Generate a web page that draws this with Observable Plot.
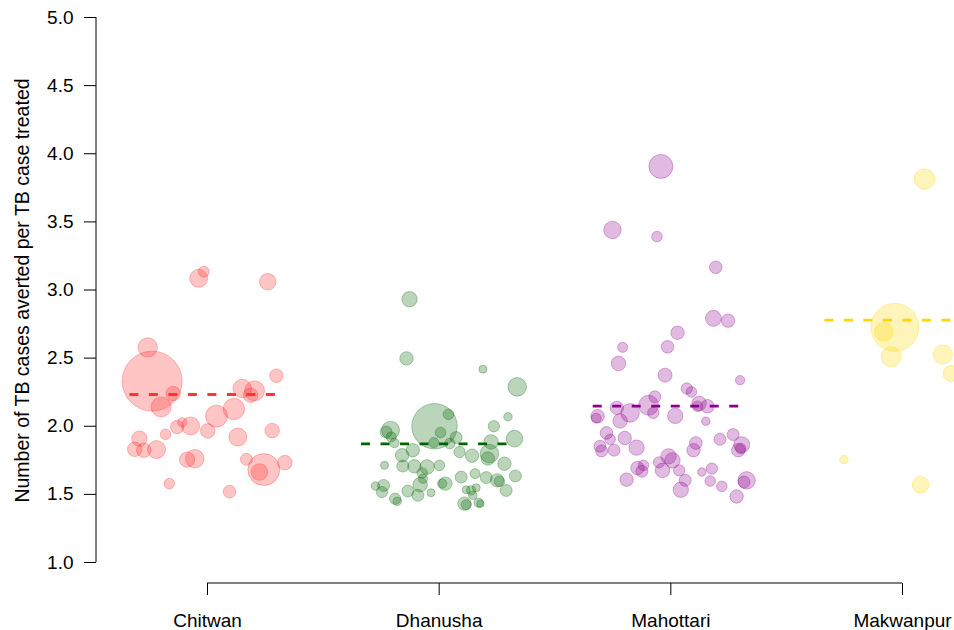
<!DOCTYPE html>
<html>
<head>
<meta charset="utf-8">
<script src="https://cdn.jsdelivr.net/npm/d3@7"></script>
<script src="https://cdn.jsdelivr.net/npm/@observablehq/plot@0.6"></script>
<style>
  html, body { margin: 0; padding: 0; background: #fff; }
</style>
</head>
<body>
<div id="chart"></div>
<script>
const districts = ["Chitwan", "Dhanusha", "Mahottari", "Makwanpur"];
const yTicks = [1.0, 1.5, 2.0, 2.5, 3.0, 3.5, 4.0, 4.5, 5.0];
const yTitle = "Number of TB cases averted per TB case treated";

// weighted mean per district (dashed lines)
const districtMeans = [2.233, 1.870, 2.147, 2.779];

// Chitwan: jittered category offset, value, weight
const chitwanJitter = [-0.038,-0.016,0.260,-0.258,-0.239,0.297,-0.148,-0.200,0.150,0.203,0.186,0.039,0.114,-0.109,-0.131,-0.073,-0.181,0.001,0.279,-0.294,0.131,-0.314,-0.275,-0.220,-0.088,-0.055,0.168,0.243,0.224,0.334,-0.165,0.095];
const chitwanValue = [3.086,3.134,3.061,2.579,2.331,2.370,2.240,2.142,2.277,2.260,2.228,2.074,2.127,2.029,1.995,2.002,1.941,1.966,1.968,1.909,1.921,1.831,1.824,1.829,1.755,1.762,1.757,1.682,1.664,1.733,1.579,1.520];
const chitwanN = [81,30,69,94,900,45,53,100,86,100,53,121,114,22,45,81,28,53,53,59,81,53,53,81,59,86,36,256,69,53,28,40];

// Dhanusha
const dhanushaJitter = [-0.128,-0.141,0.189,0.337,-0.020,0.040,0.006,0.297,0.236,-0.210,-0.229,-0.207,-0.193,0.325,0.224,0.073,0.046,-0.023,-0.114,0.088,-0.160,0.142,0.217,0.210,-0.236,-0.157,-0.107,-0.052,0.001,0.282,-0.073,-0.070,-0.082,0.095,0.155,0.203,0.250,0.260,0.329,-0.275,-0.240,-0.247,0.027,0.013,-0.135,-0.092,-0.035,0.289,0.117,0.138,0.160,0.145,-0.190,-0.181,0.109,0.117,0.170,0.178];
const dhanushaValue = [2.932,2.498,2.419,2.289,2.000,2.088,1.954,2.069,2.000,1.971,1.958,1.922,1.877,1.909,1.885,1.917,1.873,1.880,1.824,1.811,1.787,1.784,1.799,1.763,1.713,1.708,1.706,1.701,1.713,1.725,1.657,1.615,1.571,1.627,1.652,1.623,1.603,1.596,1.635,1.561,1.566,1.517,1.579,1.579,1.524,1.493,1.512,1.529,1.534,1.529,1.549,1.493,1.468,1.449,1.432,1.424,1.439,1.432];
const dhanushaN = [59,45,16,86,515,28,28,18,32,81,36,25,22,69,53,36,28,25,45,32,45,45,86,45,16,36,45,53,28,45,28,22,53,36,25,36,45,28,36,18,36,32,45,22,36,36,16,36,16,22,16,18,32,18,45,25,22,14];

// Mahottari
const mahottariJitter = [-0.043,-0.252,-0.060,0.194,0.184,0.247,0.029,-0.208,-0.014,-0.226,-0.025,0.299,0.069,0.089,-0.069,-0.096,0.122,0.158,0.115,-0.233,-0.176,-0.076,0.019,-0.316,-0.322,-0.219,0.151,-0.278,-0.199,-0.262,0.212,0.269,0.306,-0.306,-0.299,-0.245,-0.148,0.108,0.098,0.291,0.302,-0.010,0.007,-0.051,-0.118,-0.144,-0.125,-0.036,0.036,0.177,0.134,-0.191,0.062,0.170,0.327,0.316,0.220,0.043,0.284];
const mahottariValue = [3.907,3.441,3.392,3.167,2.792,2.775,2.686,2.579,2.583,2.461,2.375,2.338,2.277,2.252,2.216,2.154,2.167,2.147,2.147,2.135,2.098,2.098,2.076,2.074,2.059,2.039,2.037,1.951,1.914,1.904,1.904,1.939,1.865,1.853,1.819,1.824,1.843,1.877,1.824,1.824,1.836,1.779,1.750,1.735,1.713,1.693,1.669,1.676,1.676,1.689,1.664,1.608,1.603,1.598,1.603,1.590,1.559,1.534,1.485];
const mahottariN = [144,76,28,40,64,45,45,25,40,53,49,22,32,28,36,100,53,45,28,45,86,32,59,45,25,53,18,40,45,28,36,36,64,36,36,36,59,40,45,45,28,59,59,32,28,45,36,53,32,32,18,45,36,28,76,36,28,59,45];

// Makwanpur
const makwanpurJitter = [0.095,-0.033,-0.081,-0.049,0.174,0.210,-0.253,0.078,0.250];
const makwanpurValue = [3.814,2.726,2.693,2.510,2.527,2.387,1.755,1.571,2.730];
const makwanpurN = [106,576,86,100,94,64,18,69,36];

const pointColors = ["#ff2a2a", "#006400", "#8b008b", "#ffd700"];
const lineColors = ["#ff3333", "#006400", "#8b008b", "#ffd700"];

const jitters = [chitwanJitter, dhanushaJitter, mahottariJitter, makwanpurJitter];
const values = [chitwanValue, dhanushaValue, mahottariValue, makwanpurValue];
const sizes = [chitwanN, dhanushaN, mahottariN, makwanpurN];

const pointsBy = districts.map((d, i) => jitters[i].map((j, k) => ({
  district: d, idx: i, pos: i + j, value: values[i][k], n: sizes[i][k]
})));
const meanRows = districts.map((d, i) => ({district: d, idx: i, mean: districtMeans[i]}));

const dotMarks = pointsBy.map((pts, i) => Plot.dot(pts, {
  x: "pos", y: "value", r: "n",
  fill: pointColors[i], fillOpacity: 0.27,
  stroke: pointColors[i], strokeOpacity: 0.3, strokeWidth: 1,
  sort: null
}));

const meanMarks = meanRows.map((m, i) => Plot.ruleY([m], {
  y: "mean", x1: d => d.idx - 0.335, x2: d => d.idx + 0.335,
  stroke: lineColors[i], strokeWidth: 2.8, strokeDasharray: "9,10.5"
}));

// axis lines (R-style: span only the tick range)
function axisLines(index, scales, values, dimensions, context) {
  const doc = (context && context.document) || document;
  const ns = "http://www.w3.org/2000/svg";
  const g = doc.createElementNS(ns, "g");
  const yl = doc.createElementNS(ns, "line");
  const x0 = dimensions.marginLeft;
  yl.setAttribute("x1", x0); yl.setAttribute("x2", x0);
  yl.setAttribute("y1", scales.y(yTicks[yTicks.length - 1]));
  yl.setAttribute("y2", scales.y(yTicks[0]));
  yl.setAttribute("stroke", "#000");
  g.appendChild(yl);
  const xl = doc.createElementNS(ns, "line");
  const yb = dimensions.height - dimensions.marginBottom;
  xl.setAttribute("x1", scales.x(0)); xl.setAttribute("x2", scales.x(districts.length - 1));
  xl.setAttribute("y1", yb); xl.setAttribute("y2", yb);
  xl.setAttribute("stroke", "#000");
  g.appendChild(xl);
  return g;
}

const chart = Plot.plot({
  width: 954,
  height: 630,
  marginTop: 17,
  marginBottom: 47,
  marginLeft: 96,
  marginRight: 0,
  style: {
    fontFamily: '"Liberation Sans", Arial, Helvetica, sans-serif',
    fontSize: "19px",
    color: "#000",
    background: "#fff"
  },
  x: {
    domain: [0, districts.length - 1],
    range: [207, 902],
    ticks: districts.map((d, i) => i),
    tickFormat: i => districts[i],
    tickSize: 12,
    tickPadding: 18,
    label: null
  },
  y: {
    domain: [1, 5],
    range: [562, 17],
    ticks: yTicks,
    tickFormat: d => d.toFixed(1),
    tickSize: 12,
    tickPadding: 11,
    label: null
  },
  r: {type: "sqrt", domain: [0, 900], range: [0, 30]},
  marks: [
    ...dotMarks,
    ...meanMarks,
    axisLines,
    Plot.text([yTitle], {
      text: d => d, frameAnchor: "left", rotate: -90,
      dx: -74, dy: -10, fontSize: 19.5, textAnchor: "middle", lineAnchor: "middle", fill: "#000"
    })
  ]
});
document.getElementById("chart").appendChild(chart);
</script>
</body>
</html>
